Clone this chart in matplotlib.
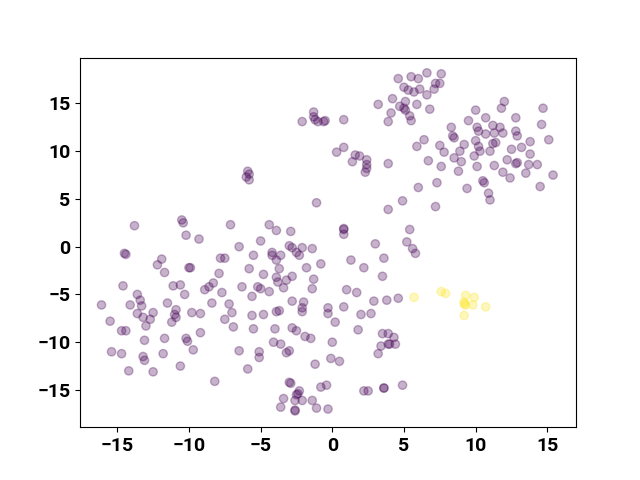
import matplotlib
matplotlib.use("Agg")
import matplotlib.pyplot as plt
import numpy as np

plt.rcParams['font.family'] = ['Roboto', 'DejaVu Sans']

# purple group (label 0)
x0 = [-13.8, -10.5, -10.4, -10.2, -9.3, -14.5, -14.4, -11.9, -12.2, -11.7, -10.0, -9.9,
      -14.6, -11.1, -10.6, -10.3, -13.6, -13.4, -14.1, -16.1, -11.5, -8.9, -13.3,
      -10.9, -12.5, -13.6, -13.2, -12.7, -11.0, -10.9, -9.8, -9.2, -15.5, -11.2,
      -14.7, -14.4, -13.0, -9.2, -13.1, -11.7, -10.2, -10.1, -9.7, -15.4, -14.7,
      -13.2, -13.1, -11.8, -10.6, -14.2, -12.5,
      -1.1, -7.1, -4.4, -3.9, -2.9, -6.5, -5.0, -3.0, -2.8, -2.1, -1.4, -2.5, -2.3,
      -4.2, -4.2, -3.9, -3.6, -5.5, -7.8, -7.5, -0.8, -1.8, -3.7, -5.8, -7.9, -4.8,
      -3.9, -2.8, -3.2, -1.3, -3.8, -3.4, -1.4, -8.3, -8.6, -6.3, -5.2, -5.0, -4.4,
      -7.7, -5.6, -8.4, -7.2, -2.8, -2.0, -2.1, -2.1, -0.3, -0.3,
      -7.0, -7.5, -6.9, -5.6, -4.8, -3.9, -3.7, -5.5, -4.0, -2.8, -2.5, -1.9, -1.5,
      -6.5, -5.1, -5.1, -4.1, -3.6, -3.2, -3.0, -5.9, -1.2, -0.1, -8.2, -3.0, -2.9,
      -2.3, -2.5, -2.4, -3.4, -2.6, -2.1, -1.4, -0.8, -0.4, -3.6, -2.6, -2.6, -1.1,
      -0.3,
      -1.3, -2.1, -1.2, -1.0, -0.6, -0.5, -1.3, -5.9, -5.8, -6.0, -5.8,
      4.6, 5.5, 6.0, 6.6, 7.6, 5.0, 5.3, 5.7, 6.1, 6.6, 7.1, 7.2, 7.5, 3.2, 4.2, 5.1,
      4.7, 5.0, 5.1, 5.9, 6.8, 4.1, 5.4, 5.5, 3.9, 0.8, 0.8, 0.3, 1.6, 1.9, 1.4,
      2.4, 2.4, 2.4, 2.3, 3.9, 5.9, 6.4, 7.5, 7.8, 6.7, 7.6, 7.3, 8.3, 8.4, 8.5,
      8.5, 8.8,
      12.0, 11.8, 14.7, 10.0, 10.7, 12.8, 9.5, 14.6, 10.1, 10.2, 11.2, 11.7, 11.9,
      11.3, 10.7, 12.8, 12.9, 13.8, 15.1, 9.2, 10.0, 10.2, 10.3, 11.2, 11.4, 11.0,
      12.5, 13.2, 8.9, 9.9, 13.8, 9.0, 12.2, 12.8, 12.9, 13.7, 14.3, 11.3, 10.1,
      11.9, 13.5, 15.4, 12.4, 10.5, 10.6, 9.4, 14.5, 10.9, 11.0,
      6.0, 4.9, 7.2, 3.9, 0.8, 0.8, 0.8, 5.4, 3.0, 5.2, 5.6, 5.8, 3.6, 1.3, 2.2,
      3.5, 1.0, 1.7, 2.9, 3.8, 4.6, 0.8,
      0.2, 2.0, 2.7, 1.8, 0.0, 3.5, 3.9, 4.3, 3.4, 3.9, 4.0, 4.4, 3.2, 0.5, 2.2,
      2.5, 3.6, 3.6, 4.9]
y0 = [2.2, 2.8, 2.5, 1.2, 0.8, -0.7, -0.8, -1.3, -1.9, -2.7, -2.2, -2.2,
      -4.1, -4.1, -4.0, -5.0, -5.0, -5.6, -6.1, -6.1, -5.9, -4.5, -6.2,
      -6.6, -6.9, -7.0, -7.4, -7.6, -7.1, -7.4, -6.9, -7.0, -7.8, -7.9,
      -8.8, -8.8, -8.3, -9.0, -9.8, -9.6, -9.6, -9.9, -10.8, -11.0, -11.2,
      -11.5, -11.9, -11.2, -12.5, -13.0, -13.1,
      4.6, 2.3, 2.3, 1.7, 1.6, 0.0, 0.6, 0.1, -0.1, -0.1, -0.2, -0.6, -0.9,
      -0.6, -0.9, -1.4, -0.9, -0.9, -1.2, -1.2, -1.8, -2.2, -2.3, -2.3, -2.8, -2.9,
      -3.2, -3.1, -3.5, -3.4, -3.7, -4.3, -4.4, -3.8, -4.2, -4.2, -4.2, -4.4, -4.7,
      -4.8, -5.2, -5.9, -6.0, -5.7, -5.8, -6.4, -6.8, -6.4, -7.0,
      -6.9, -7.6, -8.4, -7.2, -7.1, -6.8, -6.7, -8.6, -8.6, -8.5, -8.8, -9.4, -9.6,
      -10.9, -11.0, -11.6, -10.0, -10.2, -11.1, -10.9, -12.8, -12.3, -11.7, -14.1, -14.2, -14.3,
      -15.1, -15.5, -15.4, -15.9, -16.1, -16.1, -16.1, -14.7, -14.5, -16.8, -17.1, -17.2, -16.9,
      -17.0,
      14.1, 13.1, 13.3, 13.1, 13.1, 13.2, 13.6, 7.9, 7.6, 7.3, 7.0,
      17.6, 17.8, 17.6, 18.2, 18.1, 16.7, 16.4, 16.2, 16.5, 15.9, 16.5, 17.1, 17.1, 14.9, 15.5, 15.2,
      14.7, 14.5, 14.3, 14.9, 14.4, 14.0, 13.7, 13.2, 13.1, 13.3, 10.4, 9.9, 9.6, 9.5, 8.9,
      9.1, 8.6, 8.2, 7.8, 8.7, 10.5, 11.2, 10.6, 9.9, 9.0, 8.4, 6.7, 12.5, 11.6, 11.4,
      9.3, 7.9,
      15.2, 14.5, 14.5, 14.3, 13.5, 13.5, 13.2, 12.8, 12.5, 12.1, 12.7, 12.5, 11.9,
      11.9, 11.8, 12.1, 11.6, 11.0, 11.2, 10.7, 11.1, 10.5, 10.0, 10.8, 10.9, 10.0,
      10.2, 10.4, 10.0, 9.5, 9.7, 8.9, 9.1, 8.7, 8.8, 8.6, 8.6, 8.5, 8.4,
      7.8, 7.7, 7.5, 7.2, 6.9, 6.7, 6.1, 6.3, 5.6, 4.9,
      6.2, 4.8, 4.2, 3.9, 1.9, 1.8, 1.3, 1.8, 0.3, 0.5, -0.2, -0.7, -1.2, -1.4, -2.2,
      -3.1, -4.5, -4.8, -5.7, -5.6, -5.4, -6.3,
      -7.9, -7.1, -7.0, -8.7, -10.0, -9.1, -9.1, -9.5, -10.4, -10.2, -10.2, -10.2, -11.2, -12.0, -15.1,
      -15.1, -14.8, -14.8, -14.5]

# yellow group (label 1)
x1 = [5.7, 7.6, 7.9, 9.3, 9.9, 9.2, 9.3, 9.2, 9.8, 10.7, 9.2]
y1 = [-5.3, -4.7, -4.9, -5.1, -5.3, -6.0, -6.1, -5.8, -6.1, -6.3, -7.2]

xs = np.array(x0 + x1)
ys = np.array(y0 + y1)
labels = np.array([0] * len(x0) + [1] * len(x1))

fig, ax = plt.subplots(figsize=(6.4, 4.8), dpi=100)
ax.scatter(xs, ys, c=labels, cmap='viridis', alpha=0.3)
ax.set_xlim(-17.6, 17.0)
ax.set_ylim(-18.9, 19.8)
ax.set_xticks([-15, -10, -5, 0, 5, 10, 15])
ax.set_yticks([-15, -10, -5, 0, 5, 10, 15])
for lab in ax.get_xticklabels() + ax.get_yticklabels():
    lab.set_fontweight('bold')
    lab.set_fontsize(14)
fig.savefig('out.png', dpi=100)
